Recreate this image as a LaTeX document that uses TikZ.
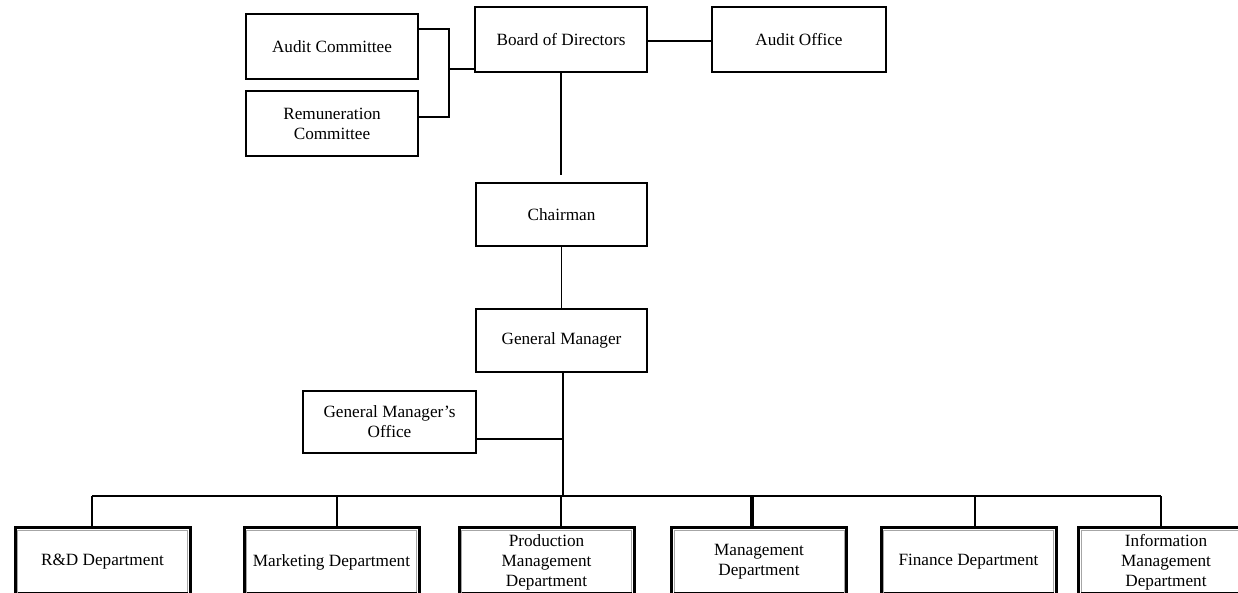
\documentclass[tikz,border=0pt]{standalone}
\usepackage{fontspec}
\setmainfont{Liberation Serif}
\usetikzlibrary{calc}
\begin{document}
\begin{tikzpicture}[x=1pt,y=-1pt,
  every node/.style={font=\fontsize{17.2}{20}\selectfont},
  box/.style={draw, line width=1.6pt, inner sep=0pt, align=center},
  topbox/.style={box, minimum width=172pt, minimum height=65pt},
  midbox/.style={box, minimum width=171pt, minimum height=63pt},
  dept/.style={draw, line width=3pt, inner sep=0pt, align=center, minimum width=175pt, minimum height=69pt},
  conn/.style={line width=1.7pt},
  thickconn/.style={line width=3.2pt},
  innerline/.style={draw=gray!70, line width=0.9pt}]
\clip (0,0) rectangle (1238,593);
% top level
\node[topbox] (ac) at (332,46.5) {Audit Committee};
\node[topbox] (rc) at (332,123.5) {Remuneration\\Committee};
\node[topbox] (bod) at (561,39.5) {Board of Directors};
\node[topbox, minimum width=174pt] (ao) at (799,39.5) {Audit Office};
\node[midbox] (ch) at (561.5,214.5) {Chairman};
\node[midbox] (gm) at (561.5,340.5) {General Manager};
\node[box, minimum width=173pt, minimum height=62pt] (gmo) at (389.5,422) {General Manager’s\\Office};
% departments
\node[dept] (rd) at (102.5,562) {R\&D Department};
\node[dept] (mk) at (331.5,562) {Marketing Department};
\node[dept] (pm) at (546.5,562) {Production\\Management\\Department};
\node[dept] (md) at (759,562) {Management\\Department};
\node[dept] (fd) at (968.5,562) {Finance Department};
\node[dept] (im) at (1166,562) {Information\\Management\\Department};
\foreach \n in {rd,mk,pm,md,fd,im}{
  \draw[innerline] ($(\n.north west)+(4,4)$) -- ($(\n.north east)+(-4,4)$) -- ($(\n.south east)+(-4,-5)$);
  \draw[innerline] ($(\n.north west)+(4,4)$) -- ($(\n.south west)+(4,-5)$);
  \draw[line width=1.4pt] ($(\n.south west)+(4,-5)$) -- ($(\n.south east)+(-4,-5)$);
}
% committee bracket
\coordinate (brkt) at (449,29);
\coordinate (brkb) at (449,117);
\coordinate (brk) at (449,69);
\draw[conn] (brkt -| ac.east) -- (brkt) -- (brkb) -- (brkb -| rc.east);
\draw[conn] (brk) -- (brk -| bod.west);
\coordinate (aol) at (680,41);
\draw[conn] (aol -| bod.east) -- (aol -| ao.west);
% vertical chain
\coordinate (bodend) at (561,175);
\draw[conn] (bod.south) -- (bodend);
\draw[conn] (ch.south) -- (gm.north);
\coordinate (bus) at (563,496);
\draw[conn] (gm.south -| bus) -- (bus);
\coordinate (gmoj) at (563,439);
\draw[conn] (gmoj -| gmo.east) -- (gmoj);
% bus
\coordinate (d1) at (92,496);
\coordinate (d2) at (337,496);
\coordinate (d3) at (561,496);
\coordinate (d4) at (752,496);
\coordinate (d5) at (975,496);
\coordinate (d6) at (1161,496);
\draw[conn] (d1) -- (d6);
\draw[conn] (d1) -- (d1 |- rd.north);
\draw[conn] (d2) -- (d2 |- mk.north);
\draw[conn] (d3) -- (d3 |- pm.north);
\draw[thickconn] (d4) -- (d4 |- md.north);
\draw[conn] (d5) -- (d5 |- fd.north);
\draw[conn] (d6) -- (d6 |- im.north);
\end{tikzpicture}
\end{document}
